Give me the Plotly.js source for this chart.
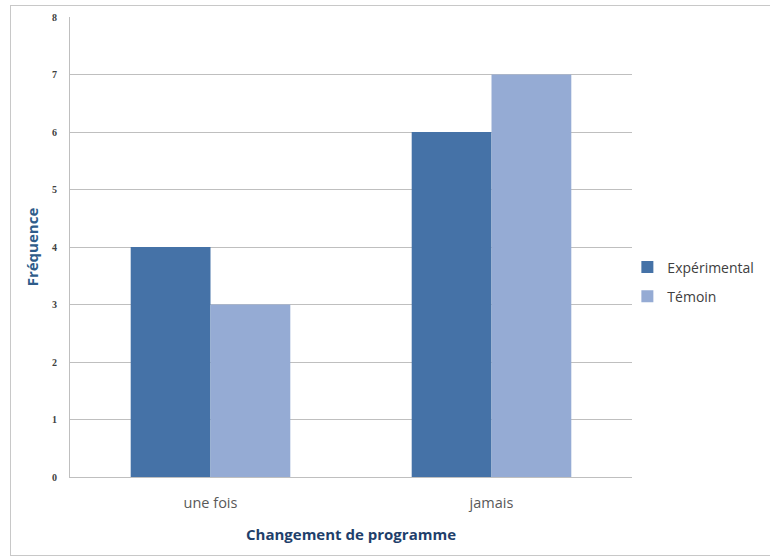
<!DOCTYPE html>
<html>
<head>
<meta charset="utf-8">
<script src="https://cdn.plot.ly/plotly-3.0.1.min.js"></script>
<style>
html,body{margin:0;padding:0;background:#fff;}
#wrap{position:relative;width:770px;height:560px;}
#chart{width:770px;height:560px;}
#frame{position:absolute;left:10px;top:5px;width:768px;height:551px;border:1px solid #c8c8c8;pointer-events:none;box-sizing:border-box;}
</style>
</head>
<body>
<div id="wrap"><div id="chart"></div><div id="frame"></div></div>
<script>
const categories = ["une fois", "jamais"];
const experimental = [4, 6];
const temoin = [3, 7];
const yTicks = [0, 1, 2, 3, 4, 5, 6, 7, 8];

const traces = [
  {type: "bar", name: "Expérimental", x: categories, y: experimental,
   marker: {color: "#4572A7"}, legendgroup: "a", hoverinfo: "none"},
  {type: "bar", name: "Témoin", x: categories, y: temoin,
   marker: {color: "#95ABD4"}, legendgroup: "b", hoverinfo: "none"}
];

const layout = {
  width: 770, height: 560,
  margin: {l: 70, r: 137, t: 17, b: 83},
  paper_bgcolor: "#ffffff", plot_bgcolor: "#ffffff",
  barmode: "group", bargap: 0.432, bargroupgap: 0,
  font: {family: "Open Sans, Liberation Sans, sans-serif", color: "#404040"},
  xaxis: {
    showgrid: false, showline: true, linecolor: "#bfbfbf", linewidth: 1,
    ticks: "", ticklabelstandoff: 13,
    tickfont: {family: "Open Sans, sans-serif", size: 14.5, color: "#595959"},
    title: {text: "Changement de programme", standoff: 18,
            font: {family: "Open Sans, sans-serif", size: 15, color: "#1F3F6B", weight: "bold"}}
  },
  yaxis: {
    range: [0, 8], tickvals: yTicks, ticktext: yTicks.map(String),
    showgrid: true, gridcolor: "#bfbfbf", gridwidth: 1,
    showline: true, linecolor: "#bfbfbf", linewidth: 1, zeroline: false,
    ticks: "", ticklabelstandoff: 10,
    tickfont: {family: "Liberation Serif, serif", size: 10, color: "#404040", weight: "bold"},
    title: {text: "Fréquence", standoff: 9,
            font: {family: "Open Sans, sans-serif", size: 15, color: "#2E5C8A", weight: "bold"}}
  },
  legend: {x: 0.99, xanchor: "left", y: 0.424, yanchor: "middle",
           traceorder: "grouped", tracegroupgap: 8,
           font: {family: "Open Sans, sans-serif", size: 14, color: "#404040"},
           bgcolor: "rgba(0,0,0,0)", itemclick: false}
};

Plotly.newPlot("chart", traces, layout, {displayModeBar: false, staticPlot: true});
</script>
</body>
</html>
